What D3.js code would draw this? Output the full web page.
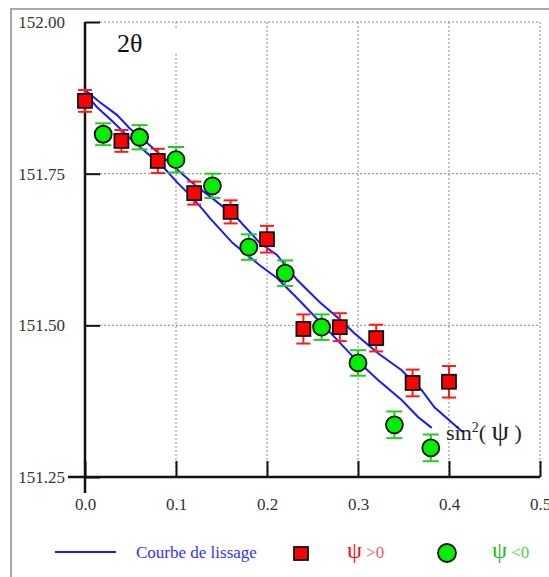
<!DOCTYPE html>
<html>
<head>
<meta charset="utf-8">
<script src="https://cdn.jsdelivr.net/npm/d3@7"></script>
<style>
  body { margin: 0; background: #fff; }
  svg { display: block; }
</style>
</head>
<body>
<div id="chart"></div>
<script>
// sin²(psi) method, 2theta vs sin²(psi)

var svgWidth = 549;
var svgHeight = 577;

// psi > 0 (red squares)
var sin2Pos = [0.00, 0.04, 0.08, 0.12, 0.16, 0.20, 0.24, 0.28, 0.32, 0.36, 0.40];
var thetaPos = [151.870, 151.804, 151.771, 151.718, 151.687, 151.642, 151.494, 151.497, 151.479, 151.405, 151.407];
var errPos = [0.018, 0.018, 0.020, 0.019, 0.019, 0.022, 0.024, 0.023, 0.022, 0.022, 0.026];

// psi < 0 (green circles)
var sin2Neg = [0.02, 0.06, 0.10, 0.14, 0.18, 0.22, 0.26, 0.30, 0.34, 0.38];
var thetaNeg = [151.815, 151.810, 151.773, 151.730, 151.629, 151.586, 151.497, 151.438, 151.336, 151.298];
var errNeg = [0.018, 0.020, 0.021, 0.020, 0.021, 0.021, 0.021, 0.021, 0.022, 0.022];

// smoothing curves (courbe de lissage)
var smoothAX = [0, 0.016, 0.035, 0.049, 0.068, 0.086, 0.104, 0.121, 0.137, 0.167, 0.192, 0.211, 0.233, 0.258, 0.283, 0.296, 0.322, 0.348, 0.370, 0.384, 0.409, 0.415];
var smoothAY = [151.888, 151.868, 151.847, 151.825, 151.801, 151.777, 151.753, 151.731, 151.713, 151.677, 151.636, 151.616, 151.575, 151.538, 151.506, 151.487, 151.454, 151.426, 151.393, 151.365, 151.332, 151.324];
var smoothBX = [0, 0.013, 0.031, 0.049, 0.068, 0.086, 0.101, 0.115, 0.130, 0.137, 0.162, 0.192, 0.211, 0.233, 0.258, 0.274, 0.296, 0.322, 0.348, 0.366, 0.381];
var smoothBY = [151.883, 151.860, 151.835, 151.809, 151.784, 151.761, 151.736, 151.715, 151.690, 151.677, 151.636, 151.599, 151.578, 151.545, 151.506, 151.481, 151.446, 151.410, 151.377, 151.349, 151.331];

var xMajor = [0, 0.1, 0.2, 0.3, 0.4, 0.5];
var xMinor = d3.range(0.02, 0.5, 0.02).filter(function(v) { return Math.abs(v * 10 - Math.round(v * 10)) > 1e-6; });
var yMajor = [151.25, 151.50, 151.75, 152.00];
var yMinor = d3.range(151.30, 152.0, 0.05).filter(function(v) { return Math.abs(v * 4 - Math.round(v * 4)) > 1e-6; });

var serif = "'Liberation Serif', 'DejaVu Serif', serif";

var svg = d3.select("#chart").append("svg")
  .attr("width", svgWidth)
  .attr("height", svgHeight);

// outer frame (left + top)
svg.append("path")
  .attr("d", "M11,577 L11,9 L549,9")
  .attr("fill", "none")
  .attr("stroke", "#a8a8a8")
  .attr("stroke-width", 2);

var xScale = d3.scaleLinear().domain([0, 0.5]).range([85, 540]);
var yScale = d3.scaleLinear().domain([151.25, 152.00]).range([477, 22]);

// grid
var grid = svg.append("g")
  .attr("stroke", "#888")
  .attr("stroke-width", 1)
  .attr("stroke-dasharray", "2,2");

grid.selectAll("line.v")
  .data(xMajor.slice(1))
  .enter().append("line")
  .attr("x1", function(d) { return xScale(d); })
  .attr("x2", function(d) { return xScale(d); })
  .attr("y1", yScale(152))
  .attr("y2", yScale(151.25));

grid.selectAll("line.h")
  .data(yMajor.slice(1))
  .enter().append("line")
  .attr("x1", xScale(0) + 15)
  .attr("x2", xScale(0.5))
  .attr("y1", function(d) { return yScale(d); })
  .attr("y2", function(d) { return yScale(d); });

// title 2θ with white box behind
svg.append("rect")
  .attr("x", 112).attr("y", 28).attr("width", 70).attr("height", 26)
  .attr("fill", "#fff");
svg.append("text")
  .attr("x", 117).attr("y", 52)
  .attr("font-family", serif)
  .attr("font-size", "26px")
  .attr("fill", "#111")
  .text("2θ");

// axes
var xAxisG = svg.append("g").attr("transform", "translate(0," + yScale(151.25) + ")");
xAxisG.call(d3.axisBottom(xScale).tickValues(xMinor).tickSize(-10).tickFormat(""));
xAxisG.call(d3.axisBottom(xScale).tickValues(xMajor).tickSize(-16).tickPadding(21).tickFormat(d3.format(".1f")));
xAxisG.selectAll(".domain").remove();

var yAxisG = svg.append("g").attr("transform", "translate(" + xScale(0) + ",0)");
yAxisG.call(d3.axisLeft(yScale).tickValues(yMinor).tickSize(-7).tickFormat(""));
yAxisG.call(d3.axisLeft(yScale).tickValues(yMajor).tickSize(-15).tickPadding(20).tickFormat(d3.format(".2f")));
yAxisG.selectAll(".domain").remove();

svg.selectAll(".tick line").attr("stroke", "#111").attr("stroke-width", 2);
svg.selectAll(".tick text")
  .attr("font-family", serif)
  .attr("font-size", "17px")
  .attr("fill", "#333");

svg.append("line")
  .attr("x1", 68).attr("x2", xScale(0.5))
  .attr("y1", yScale(151.25)).attr("y2", yScale(151.25))
  .attr("stroke", "#111").attr("stroke-width", 2.5);
svg.append("line")
  .attr("x1", xScale(0)).attr("x2", xScale(0))
  .attr("y1", yScale(152)).attr("y2", yScale(151.25) + 16)
  .attr("stroke", "#111").attr("stroke-width", 2.5);

// smoothing curves
var line = d3.line()
  .x(function(d) { return xScale(d[0]); })
  .y(function(d) { return yScale(d[1]); });

[[smoothAX, smoothAY], [smoothBX, smoothBY]].forEach(function(s) {
  svg.append("path")
    .datum(d3.zip(s[0], s[1]))
    .attr("d", line)
    .attr("fill", "none")
    .attr("stroke", "#1a1aff")
    .attr("stroke-width", 2);
});

// x label
var xl = svg.append("text")
  .attr("x", 446).attr("y", 440)
  .attr("font-family", serif)
  .attr("font-size", "22px")
  .attr("fill", "#222");
xl.append("tspan").text("sin");
xl.append("tspan").attr("font-size", "14px").attr("dy", -8).text("2");
xl.append("tspan").attr("dy", 8).text("( ");
xl.append("tspan").attr("font-size", "28px").text("ψ");
xl.append("tspan").text(" )");

// error bars
function errorBars(xs, ys, es, color, half) {
  var g = svg.append("g").attr("stroke", color).attr("stroke-width", 2);
  var data = d3.zip(xs, ys, es);
  g.selectAll("line.bar").data(data).enter().append("line")
    .attr("x1", function(d) { return xScale(d[0]); })
    .attr("x2", function(d) { return xScale(d[0]); })
    .attr("y1", function(d) { return yScale(d[1] + d[2]); })
    .attr("y2", function(d) { return yScale(d[1] - d[2]); });
  [1, -1].forEach(function(sgn) {
    g.selectAll("line.cap" + sgn).data(data).enter().append("line")
      .attr("x1", function(d) { return xScale(d[0]) - half; })
      .attr("x2", function(d) { return xScale(d[0]) + half; })
      .attr("y1", function(d) { return yScale(d[1] + sgn * d[2]); })
      .attr("y2", function(d) { return yScale(d[1] + sgn * d[2]); });
  });
}

errorBars(sin2Pos, thetaPos, errPos, "#ff1a1a", 7);
errorBars(sin2Neg, thetaNeg, errNeg, "#22cc22", 8);

svg.append("g").selectAll("rect")
  .data(d3.zip(sin2Pos, thetaPos))
  .enter().append("rect")
  .attr("x", function(d) { return xScale(d[0]) - 7; })
  .attr("y", function(d) { return yScale(d[1]) - 7; })
  .attr("width", 14).attr("height", 14)
  .attr("fill", "#ff0000")
  .attr("stroke", "#111")
  .attr("stroke-width", 1.8);

svg.append("g").selectAll("circle")
  .data(d3.zip(sin2Neg, thetaNeg))
  .enter().append("circle")
  .attr("cx", function(d) { return xScale(d[0]); })
  .attr("cy", function(d) { return yScale(d[1]); })
  .attr("r", 8.5)
  .attr("fill", "#00ee00")
  .attr("stroke", "#111")
  .attr("stroke-width", 1.8);

// legend
var leg = svg.append("g");
leg.append("line")
  .attr("x1", 55).attr("x2", 116).attr("y1", 552).attr("y2", 552)
  .attr("stroke", "#1a1aff").attr("stroke-width", 2);
leg.append("text")
  .attr("x", 136).attr("y", 558)
  .attr("font-family", serif).attr("font-size", "17px")
  .attr("fill", "#3333ff")
  .text("Courbe de lissage");
leg.append("rect")
  .attr("x", 294).attr("y", 547).attr("width", 14).attr("height", 13)
  .attr("fill", "#ff0000").attr("stroke", "#111").attr("stroke-width", 1.8);
var t1 = leg.append("text")
  .attr("x", 347).attr("y", 558)
  .attr("font-family", serif).attr("font-size", "17px");
t1.append("tspan").attr("font-size", "24px").attr("fill", "#ee1111").text("ψ");
t1.append("tspan").attr("fill", "#ff5555").text(" >0");
leg.append("circle")
  .attr("cx", 447).attr("cy", 553).attr("r", 9)
  .attr("fill", "#00ee00").attr("stroke", "#111").attr("stroke-width", 1.8);
var t2 = leg.append("text")
  .attr("x", 492).attr("y", 558)
  .attr("font-family", serif).attr("font-size", "17px");
t2.append("tspan").attr("font-size", "24px").attr("fill", "#22bb22").text("ψ");
t2.append("tspan").attr("fill", "#55cc55").text(" <0");
</script>
</body>
</html>
